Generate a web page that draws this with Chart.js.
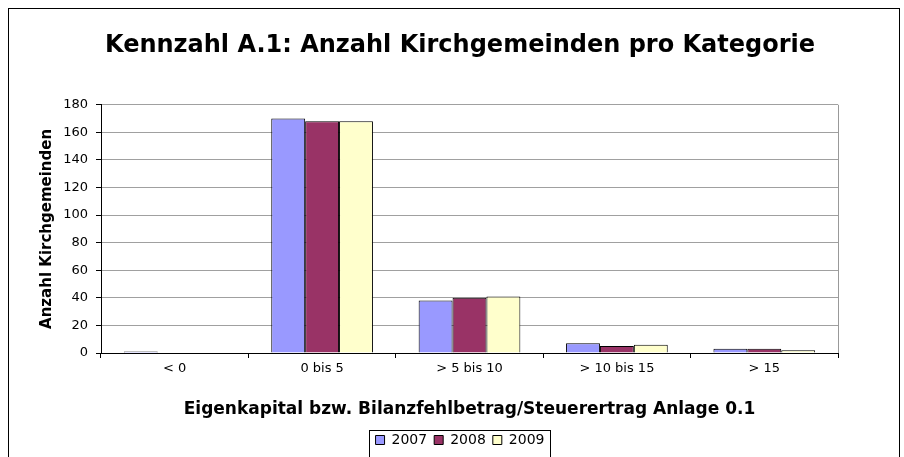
<!DOCTYPE html>
<html>
<head>
<meta charset="utf-8">
<script src="https://cdn.jsdelivr.net/npm/chart.js@4"></script>
<style>
  body { margin: 0; background: #fff; }
</style>
</head>
<body>
<canvas id="myChart" width="904" height="457"></canvas>
<script>
// categories and values
const categories = ['< 0', '0 bis 5', '> 5 bis 10', '> 10 bis 15', '> 15'];
const years = ['2007', '2008', '2009'];
const values2007 = [1, 170, 38, 7, 3];
const values2008 = [0, 168, 40, 5, 3];
const values2009 = [0, 168, 41, 6, 2];
const yTicks = [0, 20, 40, 60, 80, 100, 120, 140, 160, 180];

const colors = ['#9999FF', '#993366', '#FFFFCC'];
const fontFamily = "'DejaVu Sans', Verdana, sans-serif";

// outer frame, right plot border and legend box
const framePlugin = {
    id: 'frame',
    afterDraw(chart) {
        let c = chart.ctx;
        let a = chart.chartArea;
        c.save();
        c.strokeStyle = '#000';
        c.lineWidth = 1;
        c.strokeRect(8.5, 8.5, 891, 470);
        c.strokeStyle = '#999';
        c.beginPath();
        c.moveTo(Math.round(a.right) + 0.5, a.top);
        c.lineTo(Math.round(a.right) + 0.5, a.bottom);
        c.stroke();
        let boxes = chart.legend.legendHitBoxes;
        if (boxes && boxes.length) {
            let first = boxes[0];
            let last = boxes[boxes.length - 1];
            let x0 = Math.round(first.left) - 6.5;
            let x1 = Math.round(last.left + last.width) + 6.5;
            let y0 = Math.round(first.top) - 2.5;
            c.strokeStyle = '#000';
            c.strokeRect(x0, y0, x1 - x0, 60);
        }
        c.restore();
    }
};

let ctx = document.getElementById('myChart').getContext('2d');
let chart = new Chart(ctx, {
    type: 'bar',
    data: {
        labels: categories,
        datasets: [values2007, values2008, values2009].map((vals, i) => ({
            label: years[i],
            data: vals,
            backgroundColor: colors[i],
            borderColor: '#000',
            borderWidth: 1,
            borderSkipped: 'bottom',
            categoryPercentage: 0.69,
            barPercentage: 1.0
        }))
    },
    options: {
        responsive: false,
        animation: false,
        layout: {
            padding: { left: 24, right: 8, top: 0, bottom: 0 }
        },
        plugins: {
            title: {
                display: true,
                text: 'Kennzahl A.1: Anzahl Kirchgemeinden pro Kategorie',
                color: '#000',
                font: { family: fontFamily, size: 24, weight: 'bold' },
                padding: { top: 31, bottom: 45 }
            },
            legend: {
                display: true,
                position: 'bottom',
                labels: {
                    color: '#000',
                    boxWidth: 9,
                    boxHeight: 9,
                    padding: 7,
                    font: { family: fontFamily, size: 14 }
                }
            },
            tooltip: { enabled: false }
        },
        scales: {
            x: {
                grid: {
                    offset: true,
                    drawOnChartArea: false,
                    drawTicks: true,
                    tickLength: 5,
                    tickColor: '#000'
                },
                border: { color: '#000', width: 1 },
                ticks: {
                    color: '#000',
                    padding: 3,
                    font: { family: fontFamily, size: 13 }
                },
                title: {
                    display: true,
                    text: 'Eigenkapital bzw. Bilanzfehlbetrag/Steuerertrag Anlage 0.1',
                    color: '#000',
                    font: { family: fontFamily, size: 17, weight: 'bold' },
                    padding: { top: 20, bottom: 6 }
                }
            },
            y: {
                min: 0,
                max: 180,
                afterBuildTicks(axis) {
                    axis.ticks = yTicks.map(v => ({ value: v }));
                },
                afterFit(axis) {
                    axis.width = 77;
                },
                grid: {
                    color: '#a0a0a0',
                    tickColor: '#000',
                    tickLength: 5
                },
                border: { color: '#000', width: 1 },
                ticks: {
                    color: '#000',
                    padding: 8,
                    font: { family: fontFamily, size: 13 }
                },
                title: {
                    display: true,
                    text: 'Anzahl Kirchgemeinden',
                    color: '#000',
                    font: { family: fontFamily, size: 15, weight: 'bold' },
                    padding: { top: 14, bottom: 0 }
                }
            },
            // empty axis on the right, only to keep the plot narrower than the frame
            yRight: {
                position: 'right',
                display: true,
                grid: { display: false },
                border: { display: false },
                ticks: { display: false },
                afterFit(axis) {
                    axis.width = 58;
                }
            }
        }
    },
    plugins: [framePlugin]
});
</script>
</body>
</html>
